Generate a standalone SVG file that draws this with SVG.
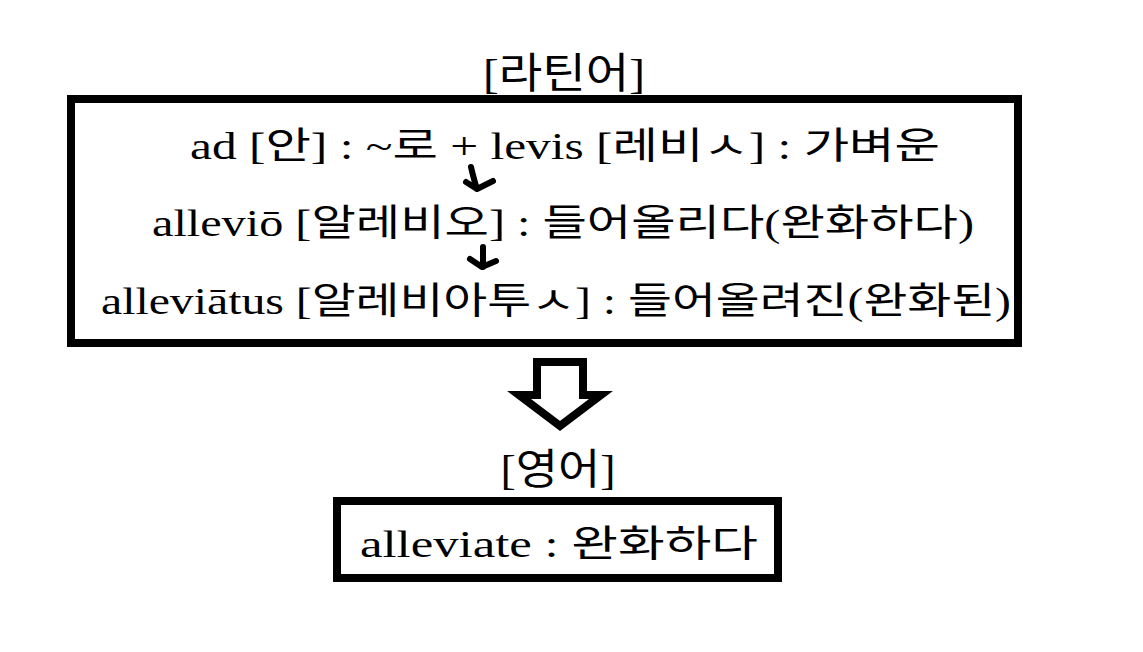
<svg xmlns="http://www.w3.org/2000/svg" width="1143" height="652" viewBox="0 0 1143 652">
<style>
.t{font-family:"Liberation Serif","Noto Sans CJK KR",serif;fill:#000;text-anchor:middle}
.box{fill:#fff;stroke:#000;stroke-width:8}
.hand{fill:none;stroke:#000;stroke-width:6;stroke-linecap:round;stroke-linejoin:round}
</style>
<rect width="1143" height="652" fill="#fff"/>
<g id="latin-title"><text class="t" x="564" y="88" font-size="42" textLength="162" lengthAdjust="spacingAndGlyphs">[라틴어]</text></g>
<g id="latin-box">
<rect class="box" x="71" y="99" width="947" height="244"/>
<text class="t" x="565" y="159" font-size="37" textLength="750" lengthAdjust="spacingAndGlyphs">ad [안] : ~로 + levis [레비ㅅ] : 가벼운</text>
<text class="t" x="563" y="236" font-size="37" textLength="822" lengthAdjust="spacingAndGlyphs">alleviō [알레비오] : 들어올리다(완화하다)</text>
<text class="t" x="556" y="314" font-size="37" textLength="910" lengthAdjust="spacingAndGlyphs">alleviātus [알레비아투ㅅ] : 들어올려진(완화된)</text>
</g>
<g id="connectors">
<path class="hand" d="M471 167 Q474 180 477 189 M466 182 L477 189 L493 181"/>
<path class="hand" d="M483 247 L483 267 M470 259 L482 267 L496 261"/>
<polygon points="537,362 583,362 583,395 601,395 560,426 519,395 537,395" fill="#fff" stroke="#000" stroke-width="8" stroke-linejoin="miter"/>
</g>
<g id="english-title"><text class="t" x="558" y="484" font-size="42" textLength="115" lengthAdjust="spacingAndGlyphs">[영어]</text></g>
<g id="english-box">
<rect class="box" x="337" y="501" width="441" height="77"/>
<text class="t" x="559" y="557" font-size="37" textLength="398" lengthAdjust="spacingAndGlyphs">alleviate : 완화하다</text>
</g>
</svg>
